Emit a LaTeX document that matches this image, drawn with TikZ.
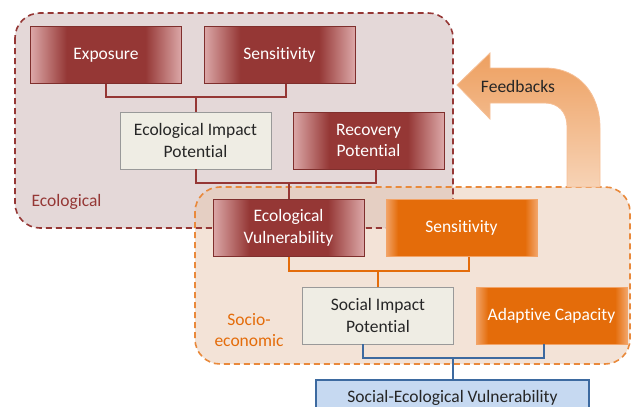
\documentclass[tikz,border=0pt]{standalone}
\usepackage{fontspec}
\setmainfont{Carlito}[Ligatures=NoCommon]
\definecolor{reddk}{HTML}{953735}
\definecolor{redlt}{HTML}{DCA8A8}
\definecolor{orgdk}{HTML}{E46C0A}
\definecolor{orglt}{HTML}{F2A468}
\definecolor{ecofill}{HTML}{E4D8D8}
\definecolor{sociofill}{HTML}{E7C7AF}
\definecolor{greyfill}{HTML}{EFEDE4}
\definecolor{bluefill}{HTML}{C6D9F1}
\definecolor{bluedk}{HTML}{3D6AA0}
\pgfdeclarehorizontalshading{redglow}{100bp}{color(0bp)=(redlt); color(25bp)=(redlt); color(37bp)=(reddk); color(63bp)=(reddk); color(75bp)=(redlt); color(100bp)=(redlt)}
\pgfdeclarehorizontalshading{orgglow}{100bp}{color(0bp)=(orglt); color(25bp)=(orglt); color(29bp)=(orgdk); color(71bp)=(orgdk); color(75bp)=(orglt); color(100bp)=(orglt)}
\tikzset{
  redbox/.style={draw=reddk!85!black, shading=redglow, text=white, minimum width=151pt, minimum height=57pt},
  orgbox/.style={draw=orglt, shading=orgglow, text=white, minimum width=151pt, minimum height=57pt},
  greybox/.style={draw=black!40, fill=greyfill, text=black!85, minimum width=151pt, minimum height=57pt},
  redline/.style={draw=reddk, line width=2pt},
  orgline/.style={draw=orgdk, line width=2pt},
  blueline/.style={draw=bluedk, line width=2pt},
  groupline/.style={dashed, dash pattern=on 6pt off 4pt, line width=1.6pt, rounded corners=25pt},
}
\begin{document}
\begin{tikzpicture}[x=1pt, y=-1pt, every text node part/.style={align=center}, font=\fontsize{17.5}{21.5}\selectfont]
  \useasboundingbox (0,0) rectangle (633,407);

  % groups
  \fill[ecofill, rounded corners=25pt] (15,13) rectangle (453,228);
  \fill[sociofill, fill opacity=0.5, rounded corners=25pt] (195,187) rectangle (630,364);
  \draw[reddk, groupline] (15,13) rectangle (453,228);
  \draw[orgdk!80, groupline] (195,187) rectangle (630,364);

  % feedback arrow
  \shade[top color=orgdk!65!white, bottom color=orgdk!30!white, draw=orglt!70!white, line width=0.8pt]
    (567,187) -- (567,126) .. controls (567,112) and (558,103) .. (545,103) -- (490,103) -- (490,119) -- (457,85)
    -- (490,53) -- (490,68) -- (545,68) .. controls (580,68) and (600,95) .. (600,128) -- (600,187) -- cycle;
  \node[text=black!85] (fb) at (518,86) {Feedbacks};

  % boxes
  \node[redbox] (1) at (106,55) {Exposure};
  \node[redbox] (2) at (279.5,55) {Sensitivity};
  \node[greybox] (3) at (195.5,140.5) {Ecological Impact\\Potential};
  \node[redbox] (4) at (368.5,140.5) {Recovery\\Potential};
  \node[redbox] (5) at (288.5,228) {Ecological\\Vulnerability};
  \node[orgbox] (6) at (461.5,228) {Sensitivity};
  \node[greybox] (7) at (378,315.5) {Social Impact\\Potential};
  \node[orgbox] (8) at (551.5,315.5) {Adaptive Capacity};
  \node[draw=bluedk, line width=2pt, fill=bluefill, text=black!85, minimum width=273pt, minimum height=37pt] (9) at (452.5,398) {Social-Ecological Vulnerability};

  \node[text=reddk, anchor=west] (eco) at (28,202) {Ecological};
  \node[text=orgdk, anchor=west, align=left] (socio) at (211,330) {Socio-\\economic};

  % connectors
  \coordinate (j1) at (195.5,97);
  \draw[redline] (1.south) |- (j1) -| ([xshift=6pt]2.south);
  \draw[redline] (j1) -- (3.north);
  \coordinate (j2) at (288.5,183);
  \draw[redline] (3.south) |- (j2) -| ([xshift=7pt]4.south);
  \draw[redline] (j2) -- (5.north);
  \coordinate (j3) at (378,271);
  \draw[orgline] (5.south) |- (j3) -| ([xshift=7pt]6.south);
  \draw[orgline] (j3) -- (7.north);
  \coordinate (j4) at (452.5,358);
  \draw[blueline] ([xshift=-15pt]7.south) |- (j4) -| ([xshift=-8pt]8.south);
  \draw[blueline] (j4) -- (9.north);
\end{tikzpicture}
\end{document}
